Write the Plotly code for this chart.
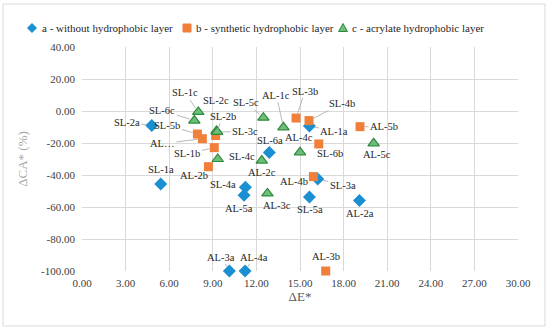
import plotly.graph_objects as go

# ---- data ----
a_names = ["SL-1a", "SL-2a", "SL-3a", "SL-4a", "SL-5a", "SL-6a",
           "AL-1a", "AL-2a", "AL-3a", "AL-4a", "AL-5a"]
a_x = [5.42, 4.80, 16.22, 11.24, 15.65, 12.89, 15.65, 19.09, 10.14, 11.22, 11.15]
a_y = [-45.6, -9.0, -42.5, -47.7, -53.8, -26.0, -9.4, -56.0, -100.0, -100.0, -52.7]

b_names = ["SL-1b", "SL-2b", "SL-3b", "SL-4b", "SL-5b", "SL-6b",
           "AL\u2026", "AL-2b", "AL-3b", "AL-4b", "AL-5b"]
b_x = [9.10, 9.20, 14.73, 15.62, 7.94, 16.29, 8.28, 8.70, 16.77, 15.92, 19.13]
b_y = [-22.9, -15.3, -4.4, -6.0, -14.4, -20.6, -17.3, -34.8, -100.0, -41.0, -9.8]

c_names = ["SL-1c", "SL-2c", "SL-3c", "SL-4c", "SL-5c", "SL-6c",
           "AL-1c", "AL-2c", "AL-3c", "AL-4c", "AL-5c"]
c_x = [8.00, 9.25, 9.30, 9.34, 12.48, 7.73, 13.86, 12.37, 12.76, 15.00, 20.07]
c_y = [-0.6, -12.5, -13.0, -30.0, -4.2, -6.0, -10.2, -31.0, -51.5, -25.8, -20.2]

series_names = ["a - without hydrophobic layer", "b - synthetic hydrophobic layer",
                "c - acrylate hydrophobic layer"]

x_ticks = [0, 3, 6, 9, 12, 15, 18, 21, 24, 27, 30]
y_ticks = [-100, -80, -60, -40, -20, 0, 20, 40]

# ---- label placement (pixel offsets of label centre from point, leader flag) ----
label_pos = {
    "SL-1a": (0, -14, False), "SL-2a": (-25, -3, True), "SL-3a": (25, 6, True),
    "SL-4a": (-22, -3, False), "SL-5a": (1, 12, False), "SL-6a": (1, -12, False),
    "AL-1a": (25, 5, True), "AL-2a": (1, 13, False), "AL-3a": (-8, -14, True),
    "AL-4a": (9, -14, True), "AL-5a": (-5, 13, False),
    "SL-1b": (-27, 6, True), "SL-2b": (7, -19, True), "SL-3b": (9, -27, True),
    "SL-4b": (33, -17, True), "SL-5b": (-30, -9, True), "SL-6b": (11, 10, False),
    "AL\u2026": (-40, 5, True), "AL-2b": (-14, 9, False), "AL-3b": (0, -15, False),
    "AL-4b": (-19, 5, False), "AL-5b": (24, 0, True),
    "SL-1c": (-13, -19, True), "SL-2c": (0, -31, False), "SL-3c": (28, 0, True),
    "SL-4c": (24, -3, False), "SL-5c": (-17, -15, True), "SL-6c": (-32, -10, True),
    "AL-1c": (-7, -32, True), "AL-2c": (0, 12, False), "AL-3c": (10, 12, False),
    "AL-4c": (-1, -15, False), "AL-5c": (3, 11, False),
}

FONT = "Liberation Serif"
BLUE = "#1a8fd1"
ORANGE = "#f07f3a"
GREEN_FILL = "#6cbf78"
GREEN_LINE = "#2f8a3f"

# plot area in pixels (for legend placement)
L, R, T, B = 82, 518, 47, 271
def px2paper(px, py):
    return (px - L) / (R - L), (B - py) / (B - T)

fig = go.Figure()
fig.add_trace(go.Scatter(x=a_x, y=a_y, mode="markers", name=series_names[0], cliponaxis=False,
                         marker=dict(symbol="diamond", size=10, color=BLUE)))
fig.add_trace(go.Scatter(x=b_x, y=b_y, mode="markers", name=series_names[1], cliponaxis=False,
                         marker=dict(symbol="square", size=9, color=ORANGE)))
fig.add_trace(go.Scatter(x=c_x, y=c_y, mode="markers", name=series_names[2], cliponaxis=False,
                         marker=dict(symbol="triangle-up", size=10, color=GREEN_FILL,
                                     line=dict(color=GREEN_LINE, width=1.2))))

annotations = []
for names, xs, ys in [(a_names, a_x, a_y), (b_names, b_x, b_y), (c_names, c_x, c_y)]:
    for n, x, y in zip(names, xs, ys):
        dx, dy, leader = label_pos[n]
        if leader:
            annotations.append(dict(x=x, y=y, text=n, showarrow=True, ax=dx, ay=dy,
                                    arrowhead=0, arrowwidth=0.8, arrowcolor="#a6a6a6",
                                    standoff=5, font=dict(family=FONT, size=10.5, color="#262626")))
        else:
            annotations.append(dict(x=x, y=y, text=n, showarrow=False, xshift=dx, yshift=-dy,
                                    font=dict(family=FONT, size=10.5, color="#262626")))

# ---- manual legend (compact, like the original) ----
legend_items = [
    (32, 40, "M 0 4.5 L 4.5 0 L 0 -4.5 L -4.5 0 Z", BLUE, BLUE),
    (187, 194, "M -4 -4 L 4 -4 L 4 4 L -4 4 Z", ORANGE, ORANGE),
    (343, 350, "M -4.5 -3.5 L 4.5 -3.5 L 0 4.5 Z", GREEN_FILL, GREEN_LINE),
]
shapes = []
leg_y = 28
for (mx, tx, path, fc, lc), name in zip(legend_items, series_names):
    ax_, ay_ = px2paper(mx, leg_y)
    shapes.append(dict(type="path", xref="paper", yref="paper", xsizemode="pixel", ysizemode="pixel",
                       xanchor=ax_, yanchor=ay_, path=path, fillcolor=fc,
                       line=dict(color=lc, width=1)))
    tx_p, ty_p = px2paper(tx, leg_y)
    annotations.append(dict(x=tx_p, y=ty_p, xref="paper", yref="paper", text=name, showarrow=False,
                            xanchor="left", yanchor="middle",
                            font=dict(family=FONT, size=11, color="#262626")))

bx0, by0 = px2paper(3, 326)
bx1, by1 = px2paper(545, 4)
shapes.append(dict(type="rect", xref="paper", yref="paper", x0=bx0, x1=bx1, y0=by0, y1=by1,
                   line=dict(color="#d9d9d9", width=1), fillcolor="rgba(0,0,0,0)", layer="below"))

fig.update_layout(
    width=550, height=331,
    margin=dict(l=L, r=550 - R, t=T, b=331 - B, autoexpand=False),
    paper_bgcolor="white", plot_bgcolor="white",
    font=dict(family=FONT, size=11, color="#404040"),
    showlegend=False,
    annotations=annotations,
    shapes=shapes,
    xaxis=dict(range=[0, 30], tickvals=x_ticks, ticktext=[f"{v:.2f}" for v in x_ticks],
               showgrid=True, gridcolor="#d9d9d9", gridwidth=1, zeroline=False,
               showline=False, ticks="", ticklabelstandoff=4,
               tickfont=dict(family=FONT, size=11, color="#404040"),
               title=dict(text="\u0394E*", font=dict(family=FONT, size=13, color="#595959"), standoff=0)),
    yaxis=dict(range=[-100, 40], tickvals=y_ticks, ticktext=[f"{v:.2f}" for v in y_ticks],
               showgrid=True, gridcolor="#d9d9d9", gridwidth=1, zeroline=False,
               showline=False, ticks="", ticklabelstandoff=6,
               tickfont=dict(family=FONT, size=11, color="#404040"),
               title=dict(text="\u0394CA* (%)", font=dict(family=FONT, size=13, color="#a6a6a6"), standoff=10)),
)

fig.write_html("out.html", config={"displayModeBar": False},
               post_script="document.body.style.margin='0px';")
